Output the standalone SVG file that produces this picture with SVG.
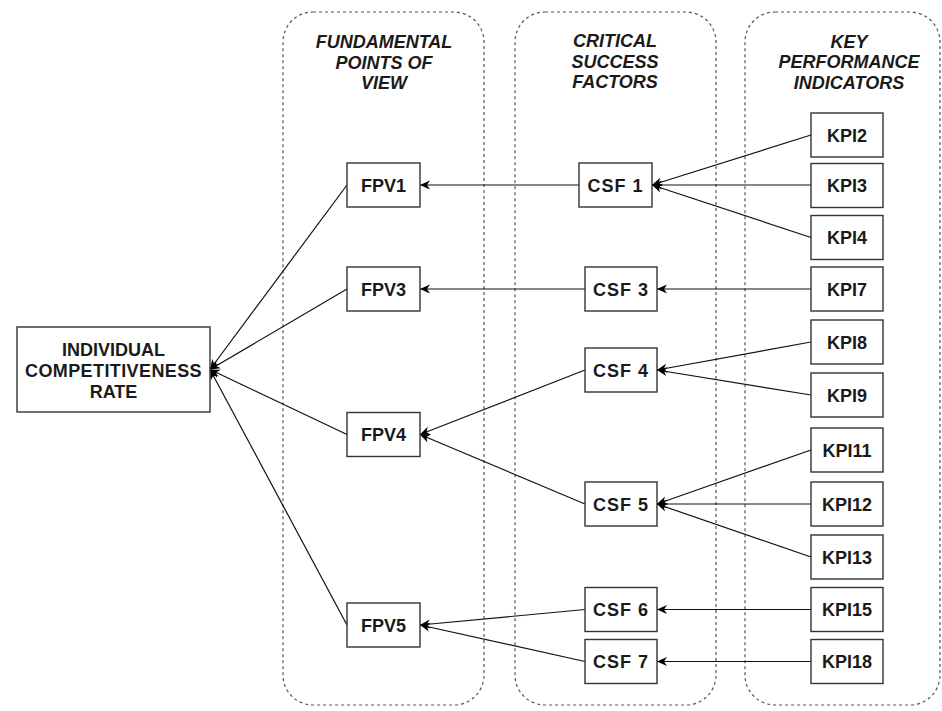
<svg xmlns="http://www.w3.org/2000/svg" width="942" height="711" viewBox="0 0 942 711">
<style>
.cont{fill:none;stroke:#555;stroke-width:1.2;stroke-dasharray:3 3}
.box{fill:#fff;stroke:#333;stroke-width:1.4}
.t{font-family:"Liberation Sans",Arial,sans-serif;font-weight:bold;font-size:18px;fill:#1a1a1a;text-anchor:middle}
.h{font-family:"Liberation Sans",Arial,sans-serif;font-weight:bold;font-style:italic;font-size:18px;fill:#1a1a1a;text-anchor:middle}
.c{fill:none;stroke:#111;stroke-width:1.2;marker-end:url(#arr)}
</style>
<defs>
<marker id="arr" markerUnits="userSpaceOnUse" markerWidth="12" markerHeight="12" viewBox="0 0 12 12" refX="11" refY="6" orient="auto">
<path d="M1,1.5 L11,6 L1,10.5 L4,6 Z" fill="#000"/>
</marker>
</defs>
<rect width="942" height="711" fill="#fff"/>
<g id="containers">
<rect class="cont" x="283" y="12" width="201" height="693" rx="30"/>
<rect class="cont" x="515" y="12" width="201" height="693" rx="30"/>
<rect class="cont" x="745" y="12" width="195" height="693" rx="30"/>
<text class="h" x="384" y="48">FUNDAMENTAL</text>
<text class="h" x="384" y="69">POINTS OF</text>
<text class="h" x="384" y="89">VIEW</text>
<text class="h" x="615" y="47">CRITICAL</text>
<text class="h" x="615" y="68">SUCCESS</text>
<text class="h" x="615" y="88">FACTORS</text>
<text class="h" x="849" y="48">KEY</text>
<text class="h" x="849" y="68">PERFORMANCE</text>
<text class="h" x="849" y="89">INDICATORS</text>
</g>
<g id="connectors">
<path class="c" d="M347,185 L210,369.5"/>
<path class="c" d="M347,289 L210,369.5"/>
<path class="c" d="M347,434.5 L210,369.5"/>
<path class="c" d="M347,625 L210,369.5"/>
<path class="c" d="M579,185 L420,185"/>
<path class="c" d="M585,289 L420,289"/>
<path class="c" d="M585,370 L420,434.5"/>
<path class="c" d="M585,504 L420,434.5"/>
<path class="c" d="M585,609.5 L420,625"/>
<path class="c" d="M585,661.5 L420,625"/>
<path class="c" d="M811,135 L652,185"/>
<path class="c" d="M811,185 L652,185"/>
<path class="c" d="M811,237.5 L652,185"/>
<path class="c" d="M811,289 L657,289"/>
<path class="c" d="M811,342 L657,370"/>
<path class="c" d="M811,395 L657,370"/>
<path class="c" d="M811,450 L657,504"/>
<path class="c" d="M811,504 L657,504"/>
<path class="c" d="M811,557 L657,504"/>
<path class="c" d="M811,609.5 L657,609.5"/>
<path class="c" d="M811,661.5 L657,661.5"/>
</g>
<g id="icr"><rect class="box" x="17" y="327" width="193" height="85"/>
<text class="t" x="113.5" y="356">INDIVIDUAL</text>
<text class="t" x="113.5" y="377" letter-spacing="0.4">COMPETITIVENESS</text>
<text class="t" x="113.5" y="398">RATE</text></g>
<g id="fpv1"><rect class="box" x="347" y="163" width="73" height="44"/><text class="t" x="383.5" y="191.5">FPV1</text></g>
<g id="fpv3"><rect class="box" x="347" y="267" width="73" height="44"/><text class="t" x="383.5" y="295.5">FPV3</text></g>
<g id="fpv4"><rect class="box" x="347" y="412.5" width="73" height="44"/><text class="t" x="383.5" y="441">FPV4</text></g>
<g id="fpv5"><rect class="box" x="347" y="603" width="73" height="44"/><text class="t" x="383.5" y="631.5">FPV5</text></g>
<g id="csf1"><rect class="box" x="579" y="163" width="73" height="44"/><text class="t" x="615.5" y="191.5" letter-spacing="1">CSF 1</text></g>
<g id="csf3"><rect class="box" x="585" y="267" width="72" height="44"/><text class="t" x="621" y="295.5" letter-spacing="1">CSF 3</text></g>
<g id="csf4"><rect class="box" x="585" y="348" width="72" height="44"/><text class="t" x="621" y="376.5" letter-spacing="1">CSF 4</text></g>
<g id="csf5"><rect class="box" x="585" y="482" width="72" height="44"/><text class="t" x="621" y="510.5" letter-spacing="1">CSF 5</text></g>
<g id="csf6"><rect class="box" x="585" y="587.5" width="72" height="44"/><text class="t" x="621" y="616" letter-spacing="1">CSF 6</text></g>
<g id="csf7"><rect class="box" x="585" y="639.5" width="72" height="44"/><text class="t" x="621" y="668" letter-spacing="1">CSF 7</text></g>
<g id="kpi2"><rect class="box" x="811" y="113" width="72" height="44"/><text class="t" x="847" y="141.5">KPI2</text></g>
<g id="kpi3"><rect class="box" x="811" y="163.5" width="72" height="44"/><text class="t" x="847" y="192">KPI3</text></g>
<g id="kpi4"><rect class="box" x="811" y="215.5" width="72" height="44"/><text class="t" x="847" y="244">KPI4</text></g>
<g id="kpi7"><rect class="box" x="811" y="267" width="72" height="44"/><text class="t" x="847" y="295.5">KPI7</text></g>
<g id="kpi8"><rect class="box" x="811" y="320" width="72" height="44"/><text class="t" x="847" y="348.5">KPI8</text></g>
<g id="kpi9"><rect class="box" x="811" y="373" width="72" height="44"/><text class="t" x="847" y="401.5">KPI9</text></g>
<g id="kpi11"><rect class="box" x="811" y="428" width="72" height="44"/><text class="t" x="847" y="456.5">KPI11</text></g>
<g id="kpi12"><rect class="box" x="811" y="482" width="72" height="44"/><text class="t" x="847" y="510.5">KPI12</text></g>
<g id="kpi13"><rect class="box" x="811" y="535" width="72" height="44"/><text class="t" x="847" y="563.5">KPI13</text></g>
<g id="kpi15"><rect class="box" x="811" y="587.5" width="72" height="44"/><text class="t" x="847" y="616">KPI15</text></g>
<g id="kpi18"><rect class="box" x="811" y="639.5" width="72" height="44"/><text class="t" x="847" y="668">KPI18</text></g>
</svg>
